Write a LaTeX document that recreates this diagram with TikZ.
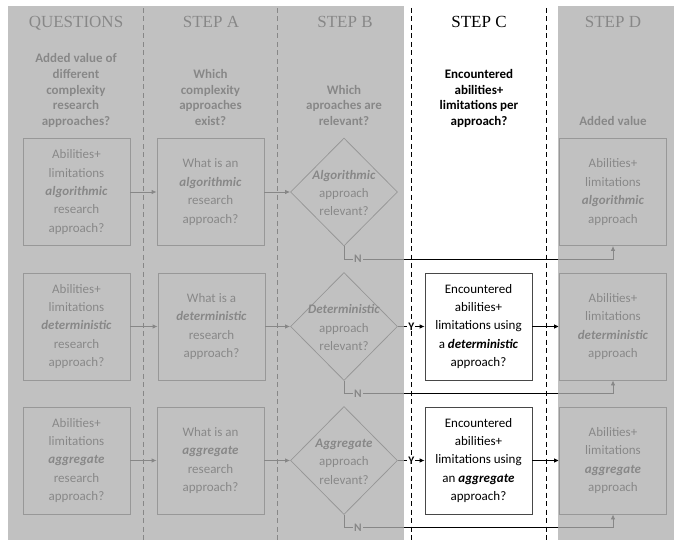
\documentclass[tikz,border=0pt]{standalone}
\usepackage{fontspec}
\setmainfont{Carlito}
\newfontfamily\headfont{Liberation Serif}
\usetikzlibrary{shapes.geometric,arrows.meta,calc}
\begin{document}
\begin{tikzpicture}[x=1pt,y=-1pt,
  box/.style={draw=black!72, line width=0.8pt, minimum width=107pt, minimum height=107pt, inner sep=0pt, align=center, font=\fontsize{13}{18.4}\selectfont},
  dia/.style={draw=black!72, line width=0.8pt, diamond, minimum width=107pt, minimum height=108pt, inner sep=0pt},
  diatext/.style={align=center, inner sep=0pt, font=\fontsize{13}{18.4}\selectfont},
  head/.style={anchor=base, inner sep=0pt, font=\headfont\fontsize{17}{20}\selectfont},
  sub/.style={anchor=south, inner sep=0pt, align=center, font=\fontsize{13}{15.8}\selectfont\bfseries},
  conn/.style={draw=black, line width=0.8pt, -{Latex[length=5pt,width=4.5pt]}},
  colsep/.style={draw=black, line width=0.8pt, dash pattern=on 5pt off 3.5pt},
  yn/.style={fill=white, inner sep=1pt, font=\fontsize{11.5}{12}\selectfont\bfseries},
  shade/.style={fill=black!31, fill opacity=0.773, draw=none}
]
\useasboundingbox (0,0) rectangle (674,540);
\fill[white] (0,0) rectangle (674,540);

% column separators
\draw[colsep] (143,8) -- (143,540);
\draw[colsep] (277,8) -- (277,540);
\draw[colsep] (411.7,8) -- (411.7,540);
\draw[colsep] (546,8) -- (546,540);

% headers
\node[head] (hq) at (76,28) {QUESTIONS};
\node[head] (ha) at (211,28) {STEP A};
\node[head] (hb) at (345,28) {STEP B};
\node[head] (hc) at (479,28) {STEP C};
\node[head] (hd) at (613,28) {STEP D};

% sub headers
\node[sub] (sq) at (76,130.7) {Added value of\\different\\complexity\\research\\approaches?\strut};
\node[sub] (sa) at (210.5,130.7) {Which\\complexity\\approaches\\exist?\strut};
\node[sub] (sb) at (344,130.7) {Which\\aproaches are\\relevant?\strut};
\node[sub] (sc) at (479,130.7) {Encountered\\abilities+\\limitations per\\approach?\strut};
\node[sub] (sd) at (613,130.7) {Added value\strut};

% row 1
\node[box] (q1) at (76.5,192) {Abilities+\\limitations\\\textbf{\textit{algorithmic}}\\research\\approach?};
\node[box] (a1) at (210.5,192) {What is an\\\textbf{\textit{algorithmic}}\\research\\approach?};
\node[dia] (b1) at (344,192) {};
\node[diatext] (b1t) at (344,193) {\textbf{\textit{Algorithmic}}\\approach\\relevant?};
\node[box] (d1) at (613,192) {Abilities+\\limitations\\\textbf{\textit{algorithmic}}\\approach};

% row 2
\node[box] (q2) at (76.5,326.5) {Abilities+\\limitations\\\textbf{\textit{deterministic}}\\research\\approach?};
\node[box] (a2) at (211.5,326.5) {What is a\\\textbf{\textit{deterministic}}\\research\\approach?};
\node[dia] (b2) at (344,326.5) {};
\node[diatext] (b2t) at (344,327.5) {\textbf{\textit{Deterministic}}\\approach\\relevant?};
\node[box] (c2) at (478.5,326.5) {Encountered\\abilities+\\limitations using\\a \textbf{\textit{deterministic}}\\approach?};
\node[box] (d2) at (613,326.5) {Abilities+\\limitations\\\textbf{\textit{deterministic}}\\approach};

% row 3
\node[box] (q3) at (76.5,460.5) {Abilities+\\limitations\\\textbf{\textit{aggregate}}\\research\\approach?};
\node[box] (a3) at (210.5,460.5) {What is an\\\textbf{\textit{aggregate}}\\research\\approach?};
\node[dia] (b3) at (344,460.5) {};
\node[diatext] (b3t) at (344,461.5) {\textbf{\textit{Aggregate}}\\approach\\relevant?};
\node[box] (c3) at (478.5,460.5) {Encountered\\abilities+\\limitations using\\an \textbf{\textit{aggregate}}\\approach?};
\node[box] (d3) at (613,460.5) {Abilities+\\limitations\\\textbf{\textit{aggregate}}\\approach};

% connectors
\draw[conn] (q1) -- (a1);
\draw[conn] (a1) -- (b1);
\draw[conn] (q2) -- (a2);
\draw[conn] (a2) -- (b2);
\draw[conn] (q3) -- (a3);
\draw[conn] (a3) -- (b3);

\draw[conn] (b2) -- node[yn] (y2) {Y} (c2);
\draw[conn] (c2) -- (d2);
\draw[conn] (b3) -- node[yn] (y3) {Y} (c3);
\draw[conn] (c3) -- (d3);

\draw[conn] (b1.south) |- node[yn, pos=0.526] (n1) {N} ($(d1.south)+(0,13)$) -- (d1.south);
\draw[conn] (b2.south) |- node[yn, pos=0.526] (n2) {N} ($(d2.south)+(0,13)$) -- (d2.south);
\draw[conn] (b3.south) |- node[yn, pos=0.526] (n3) {N} ($(d3.south)+(0,13)$) -- (d3.south);

% grey overlay over the columns that are not highlighted
\fill[shade] (8,6) rectangle (404,540);
\fill[shade] (557.7,6) rectangle (674,540);
\end{tikzpicture}
\end{document}
